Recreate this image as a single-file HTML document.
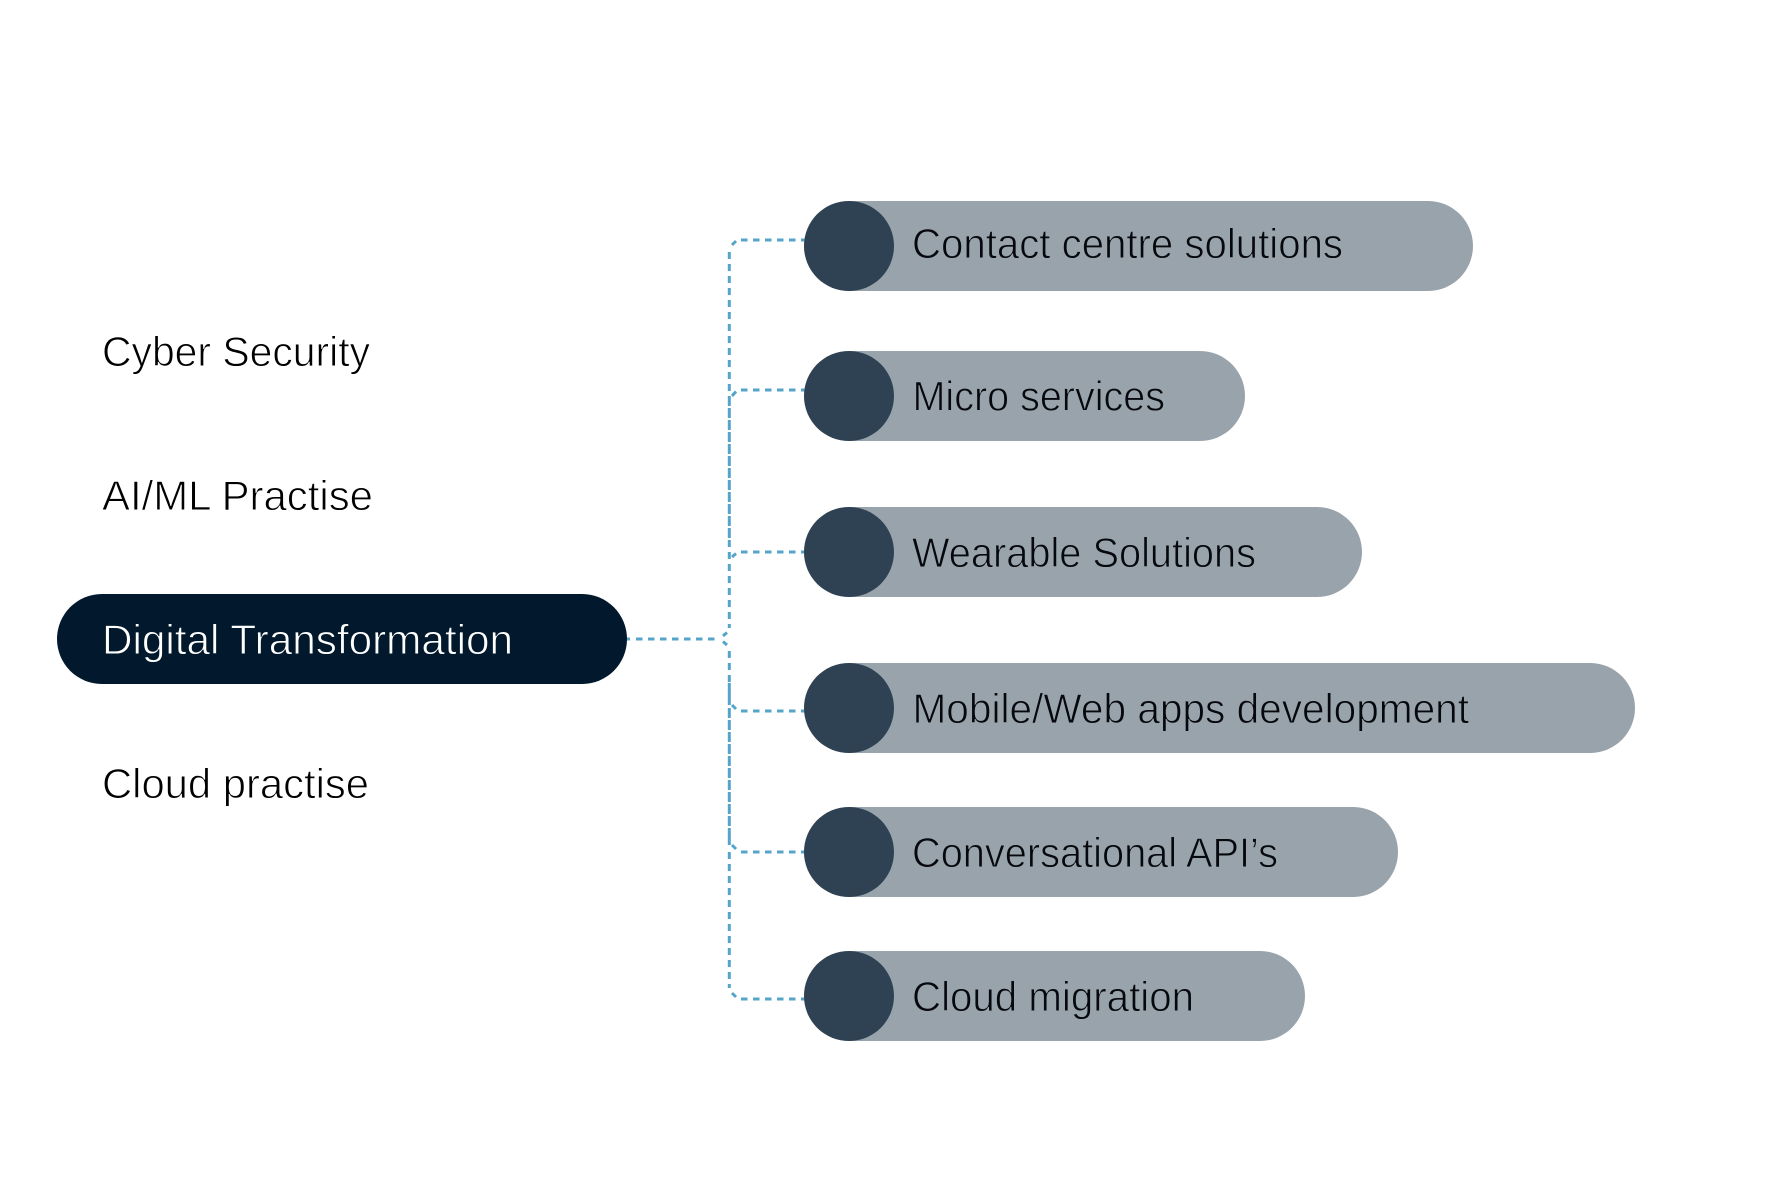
<!DOCTYPE html>
<html lang="en">
<head>
<meta charset="utf-8">
<title>Digital Transformation</title>
<style>
html,body{margin:0;padding:0;background:#fff}
svg{display:block}
text{font-family:"Liberation Sans",sans-serif;font-size:42px}
.d{fill:#05080c;stroke:#99a3ab;stroke-width:.9px}
.w{fill:#000;stroke:#fff;stroke-width:.9px}
.l{fill:#fff;stroke:#02192d;stroke-width:.9px}
.c{fill:none;stroke:#54a5c9;stroke-width:3}
.h{stroke-dasharray:6.5 5.5}
.v{stroke-dasharray:7 5}
.n{stroke-dasharray:10 2}
</style>
</head>
<body>
<svg xmlns="http://www.w3.org/2000/svg" width="1782" height="1200" viewBox="0 0 1782 1200">
<rect width="1782" height="1200" fill="#fff"/>

<!-- connectors -->
<path class="c" d="M627 639H630"/>
<path class="c h" d="M636 639H720"/>
<path class="c" d="M723 636L727 632.5M723 641.5L727 645"/>
<path class="c v" d="M729.3 252V392"/>
<path class="c n" d="M729.3 396V540"/>
<path class="c v" d="M729.3 540V628"/>
<path class="c v" d="M729.3 651V683"/>
<path class="c" d="M729.3 683V705"/>
<path class="c n" d="M729.3 708V830"/>
<path class="c" d="M729.3 830V845"/>
<path class="c v" d="M729.3 852V988"/>
<path class="c" d="M732 245L736 241M732 396L736 391.5M732 557L736 553.5M732 705L736 709M732 845L736 849M732 993L736 997"/>
<path class="c h" d="M741 240H806M741 390H806M741 552H806M741 711H806M741 852H806M741 999H806"/>

<!-- left column -->
<text class="w" x="102" y="366" textLength="268" lengthAdjust="spacingAndGlyphs">Cyber Security</text>
<text class="w" x="102" y="510" textLength="271" lengthAdjust="spacingAndGlyphs">AI/ML Practise</text>
<rect x="57" y="594" width="570" height="90" rx="45" fill="#02192d"/>
<text class="l" x="102" y="654" textLength="411" lengthAdjust="spacingAndGlyphs">Digital Transformation</text>
<text class="w" x="102" y="798" textLength="267" lengthAdjust="spacingAndGlyphs">Cloud practise</text>

<!-- right pills -->
<rect x="804" y="201" width="669" height="90" rx="45" fill="#99a3ab"/>
<circle cx="849" cy="246" r="45" fill="#2f4253"/>
<text class="d" x="912" y="258" textLength="431" lengthAdjust="spacingAndGlyphs">Contact centre solutions</text>

<rect x="804" y="351" width="441" height="90" rx="45" fill="#99a3ab"/>
<circle cx="849" cy="396" r="45" fill="#2f4253"/>
<text class="d" x="912.5" y="410.5" textLength="252.5" lengthAdjust="spacingAndGlyphs">Micro services</text>

<rect x="804" y="507" width="558" height="90" rx="45" fill="#99a3ab"/>
<circle cx="849" cy="552" r="45" fill="#2f4253"/>
<text class="d" x="912" y="567" textLength="344" lengthAdjust="spacingAndGlyphs">Wearable Solutions</text>

<rect x="804" y="663" width="831" height="90" rx="45" fill="#99a3ab"/>
<circle cx="849" cy="708" r="45" fill="#2f4253"/>
<text class="d" x="912.5" y="723" textLength="556.5" lengthAdjust="spacingAndGlyphs">Mobile/Web apps development</text>

<rect x="804" y="807" width="594" height="90" rx="45" fill="#99a3ab"/>
<circle cx="849" cy="852" r="45" fill="#2f4253"/>
<text class="d" x="912" y="867" textLength="366" lengthAdjust="spacingAndGlyphs">Conversational API’s</text>

<rect x="804" y="951" width="501" height="90" rx="45" fill="#99a3ab"/>
<circle cx="849" cy="996" r="45" fill="#2f4253"/>
<text class="d" x="912" y="1011" textLength="282" lengthAdjust="spacingAndGlyphs">Cloud migration</text>
</svg>
</body>
</html>
